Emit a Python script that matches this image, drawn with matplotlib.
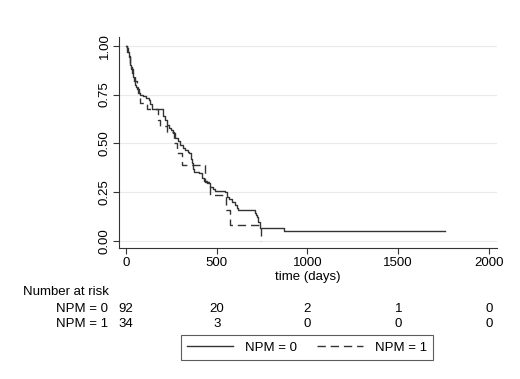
import matplotlib
matplotlib.use("Agg")
import matplotlib.pyplot as plt
from matplotlib import transforms

plt.rcParams["font.family"] = ["Liberation Sans", "DejaVu Sans"]

# Kaplan-Meier step vertices
t_npm0 = [0, 5, 10, 15, 20, 25, 30, 35, 40, 45, 50, 55, 60, 70, 80, 95, 110, 125, 132, 142,
          206, 215, 224, 237, 250, 262, 271, 285, 298, 312, 326, 340, 350, 357, 363, 370, 375,
          400, 418, 432, 445, 464, 478, 491, 546, 556, 570, 583, 600, 610, 620, 712, 717, 724,
          730, 739, 746, 873, 1755]
s_npm0 = [1.0, 0.989, 0.967, 0.945, 0.923, 0.90, 0.88, 0.86, 0.84, 0.82, 0.80, 0.79, 0.78, 0.76,
          0.75, 0.74, 0.73, 0.72, 0.70, 0.675, 0.64, 0.62, 0.593, 0.58, 0.567, 0.55, 0.525, 0.51,
          0.49, 0.478, 0.466, 0.456, 0.448, 0.42, 0.397, 0.37, 0.354, 0.345, 0.32, 0.305, 0.294,
          0.277, 0.265, 0.256, 0.251, 0.226, 0.213, 0.20, 0.184, 0.17, 0.157, 0.14, 0.131, 0.123,
          0.097, 0.064, 0.064, 0.050, 0.050]

t_npm1 = [0, 8, 15, 25, 32, 40, 50, 59, 68, 78, 115, 179, 188, 225, 265, 284, 307, 436, 463,
          552, 574, 745]
s_npm1 = [1.0, 0.97, 0.94, 0.91, 0.88, 0.85, 0.82, 0.79, 0.76, 0.705, 0.676, 0.62, 0.59, 0.56,
          0.50, 0.448, 0.388, 0.303, 0.234, 0.157, 0.080, 0.0]

risk_times = [0, 500, 1000, 1500, 2000]
risk_npm0 = [92, 20, 2, 1, 0]
risk_npm1 = [34, 3, 0, 0, 0]

W, H = 520, 379
FS = 9.5
fig = plt.figure(figsize=(W / 100, H / 100), dpi=100)
ax = fig.add_axes([119 / W, 1 - 248.3 / H, (497 - 119) / W, (248.3 - 37) / H])

line_col = "#333333"
ax.step(t_npm0, s_npm0, where="post", color=line_col, lw=1.0, label="NPM = 0")
ax.step(t_npm1, s_npm1, where="post", color=line_col, lw=1.0, dashes=(6, 3.5), label="NPM = 1")

ax.set_xlim(-38, 2044)
ax.set_ylim(-0.039, 1.045)
ax.set_xticks(risk_times)
ax.set_yticks([0, 0.25, 0.5, 0.75, 1.0])
ax.set_yticklabels(["0.00", "0.25", "0.50", "0.75", "1.00"], rotation=90, va="center")
ax.tick_params(labelsize=FS, length=4, width=0.8, color="#333333", pad=2)
ax.grid(axis="y", color="#eaeaea", lw=0.8)
ax.set_axisbelow(True)
for side in ["top", "right"]:
    ax.spines[side].set_visible(False)
for side in ["left", "bottom"]:
    ax.spines[side].set_color("#333333")
    ax.spines[side].set_linewidth(0.8)
ax.set_xlabel("time (days)", fontsize=FS, labelpad=2)

# number at risk table
tr = transforms.blended_transform_factory(ax.transData, fig.transFigure)
fig.text(23 / W, 1 - 292 / H, "Number at risk", fontsize=FS, va="center", ha="left")
fig.text(108 / W, 1 - 309 / H, "NPM = 0", fontsize=FS, va="center", ha="right")
fig.text(108 / W, 1 - 324 / H, "NPM = 1", fontsize=FS, va="center", ha="right")
for t, a, b in zip(risk_times, risk_npm0, risk_npm1):
    ax.text(t, 1 - 309 / H, str(a), transform=tr, fontsize=FS, ha="center", va="center")
    ax.text(t, 1 - 324 / H, str(b), transform=tr, fontsize=FS, ha="center", va="center")

handles, labels = ax.get_legend_handles_labels()
leg = fig.legend(handles, labels, loc="center", bbox_to_anchor=(307 / W, 1 - 347.5 / H),
                 ncol=2, fontsize=FS, frameon=True, fancybox=False, handlelength=3.5,
                 columnspacing=1.5, borderpad=0.45, handletextpad=0.9)
leg.get_frame().set_edgecolor("#333333")
leg.get_frame().set_linewidth(0.8)

fig.savefig("out.png", dpi=100)
